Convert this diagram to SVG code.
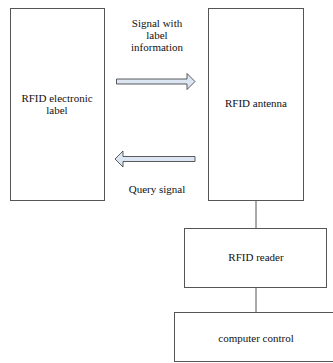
<svg xmlns="http://www.w3.org/2000/svg" width="333" height="363" viewBox="0 0 333 363">
  <style>
    .box { fill: #ffffff; stroke: #555555; stroke-width: 1; }
    .link { stroke: #555555; stroke-width: 1; fill: none; }
    .arrow { fill: #dce6f2; stroke: #333333; stroke-width: 0.8; stroke-linejoin: miter; }
    .t { font-family: 'Liberation Serif', 'Times New Roman', Times, serif; font-size: 11px; fill: #111111; text-anchor: middle; }
  </style>
  <rect width="333" height="363" fill="#ffffff"/>

  <g id="connectors">
    <line class="link" x1="256" y1="200" x2="256" y2="228"/>
    <line class="link" x1="256" y1="288" x2="256" y2="312"/>
    <!-- signal arrows between tag and antenna -->
    <path class="arrow" d="M116.5,79 H187 V73.5 L195,81.5 L187,89.5 V84 H116.5 Z"/>
    <path class="arrow" d="M195,156.5 H123 V151 L115,159 L123,167 V161.5 H195 Z"/>
  </g>

  <g id="label-signal" class="t" font-family="Liberation Serif, serif">
    <text x="157" y="26.5">Signal with</text>
    <text x="157" y="38.5">label</text>
    <text x="157" y="50.5">information</text>
  </g>
  <g id="label-query" class="t" font-family="Liberation Serif, serif">
    <text x="157" y="193">Query signal</text>
  </g>

  <g id="rfid-label">
    <rect class="box" x="10.5" y="8.5" width="94" height="192"/>
    <g class="t" font-family="Liberation Serif, serif">
      <text x="57" y="102">RFID electronic</text>
      <text x="57" y="114">label</text>
    </g>
  </g>

  <g id="rfid-antenna">
    <rect class="box" x="208.5" y="8.5" width="95" height="192"/>
    <text class="t" font-family="Liberation Serif, serif" x="256" y="106.5">RFID antenna</text>
  </g>

  <g id="rfid-reader">
    <rect class="box" x="184.5" y="228.5" width="142" height="59"/>
    <text class="t" font-family="Liberation Serif, serif" x="256" y="261">RFID reader</text>
  </g>

  <g id="computer-control">
    <rect class="box" x="174.5" y="312.5" width="170" height="49"/>
    <text class="t" font-family="Liberation Serif, serif" x="256" y="341.5">computer control</text>
  </g>
</svg>
